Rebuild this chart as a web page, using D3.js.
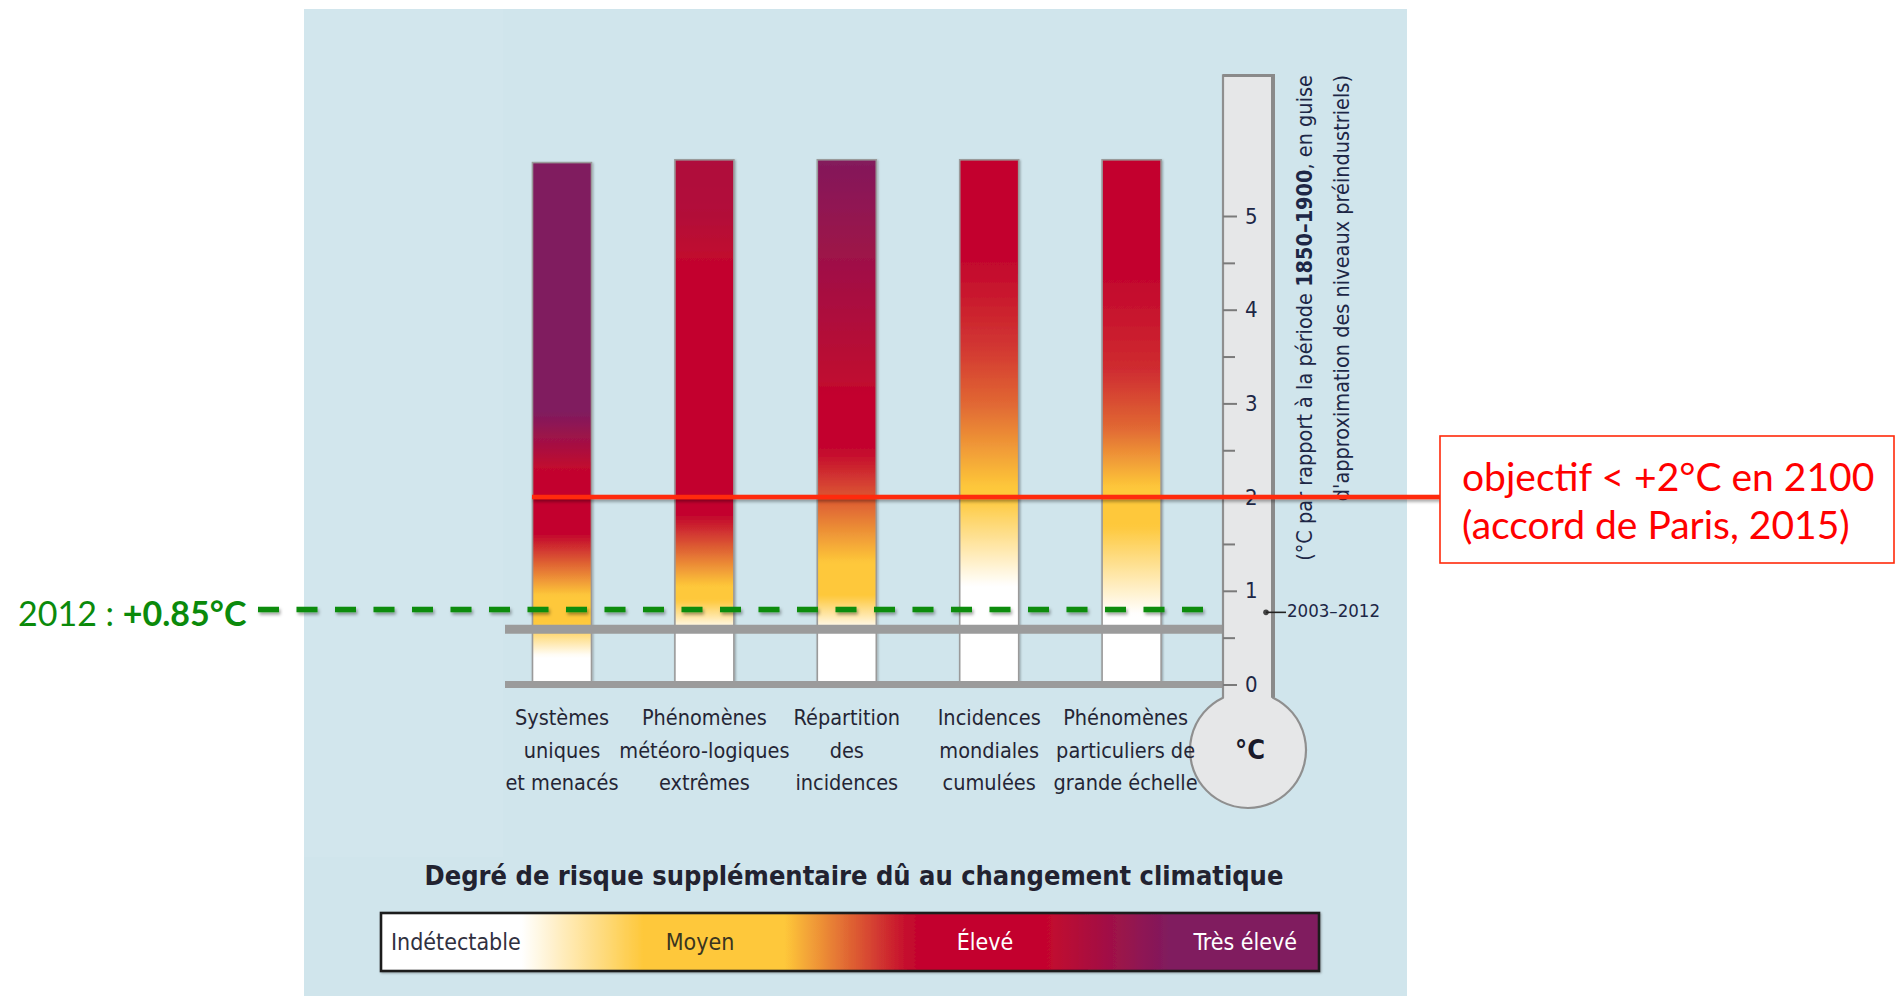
<!DOCTYPE html>
<html><head><meta charset="utf-8">
<script src="https://cdn.jsdelivr.net/npm/d3@7"></script>
<style>
html,body{margin:0;padding:0;background:#fff;}
svg{display:block;}
.cond{font-family:"Liberation Sans Narrow","DejaVu Sans Condensed","Roboto Condensed",sans-serif;}
.cal{font-family:Lato,"Open Sans",sans-serif;}
</style></head><body>
<svg id="chart" width="1899" height="996"></svg>
<script>
// ---------- DATA ----------
const categories = ["Systèmes uniques et menacés","Phénomènes météorologiques extrêmes","Répartition des incidences","Incidences mondiales cumulées","Phénomènes particuliers de grande échelle"];
const categoryLines = [["Systèmes","uniques","et menacés"],["Phénomènes","météoro-logiques","extrêmes"],["Répartition","des","incidences"],["Incidences","mondiales","cumulées"],["Phénomènes","particuliers de","grande échelle"]];
const barTops = [5.57, 5.6, 5.6, 5.6, 5.6];
// temperature (°C) at which each risk level (0 indétectable,1 moyen,2 élevé,3 très élevé) is reached
const riskTemps = [
  [0, 0.3, 0.65, 0.95, 1.6, 2.3, 2.9, 5.57],
  [0, 0.58, 0.9, 1.05, 1.8, 4.5, 5.0, 5.6],
  [0, 0.58, 0.95, 1.3, 2.5, 3.1, 5.6],
  [0, 1.05, 2.0, 2.1, 3.0, 3.6, 4.5, 5.6],
  [0, 0.75, 1.7, 2.1, 2.75, 3.35, 4.3, 5.6]
];
const riskLevels = [
  [0, 0, 1, 1, 2, 2, 3, 3],
  [0, 0, 1, 1, 2, 2, 2.25, 2.3],
  [0, 0, 1, 1, 2, 2, 2.95],
  [0, 0, 1, 1, 1.5, 1.75, 2, 2],
  [0, 0, 1, 1, 1.5, 1.8, 2, 2]
];
const riskNames = ["Indétectable","Moyen","Élevé","Très élevé"];
const riskColors = ["#ffffff","#fec83a","#c3062d","#801b5e"];
const legendFrac = [0, 0.15, 0.28, 0.43, 0.565, 0.71, 0.84, 1];
const legendLevels = [0, 0, 1, 1, 2, 2, 3, 3];
const tempTicks = [0, 1, 2, 3, 4, 5];
const minorTicks = [0.5, 1.5, 2.5, 3.5, 4.5];
const baselineRef = 0.59;      // grey reference line
const obs2012 = 0.8;           // green dashed line
const obsMarker = 0.77;        // 2003–2012 marker
const obsMarkerLabel = "2003–2012";
const targetTemp = 2;          // Paris target
const obsLabel = ["2012 : ", "+0.85°C"];
const targetLabel = ["objectif < +2°C en 2100", "(accord de Paris, 2015)"];
const axisTitle = ["(°C par rapport à la période ", "1850–1900", ", en guise", "d'approximation des niveaux préindustriels)"];
const chartTitle = "Degré de risque supplémentaire dû au changement climatique";

// ---------- LAYOUT ----------
const svg = d3.select("#chart");
const y = d3.scaleLinear().domain([0, 5]).range([684.5, 216]);
const x = d3.scalePoint().domain(categories).range([562, 1131.6]);
const barW = 59;
const riskColor = d3.scaleLinear().domain([0,1,2,3]).range(riskColors).interpolate(d3.interpolateRgb);

const defs = svg.append("defs");
const sh = defs.append("filter").attr("id","shadow").attr("filterUnits","userSpaceOnUse")
  .attr("x",0).attr("y",0).attr("width",1899).attr("height",996);
sh.append("feDropShadow").attr("dx",1.5).attr("dy",2.5).attr("stdDeviation",1.6).attr("flood-color","#000").attr("flood-opacity",0.35);
const sh2 = defs.append("filter").attr("id","shadow2").attr("filterUnits","userSpaceOnUse")
  .attr("x",0).attr("y",0).attr("width",1899).attr("height",996);
sh2.append("feDropShadow").attr("dx",1).attr("dy",1).attr("stdDeviation",1).attr("flood-color","#000").attr("flood-opacity",0.3);

// panel
svg.append("rect").attr("x",304).attr("y",9).attr("width",1103).attr("height",987).attr("fill","#d0e5ec");
svg.append("rect").attr("x",304).attr("y",9).attr("width",199).attr("height",848).attr("fill","#d2e6ed");

// bar gradients
categories.forEach((c,i) => {
  const top = barTops[i];
  const lv = d3.scaleLinear().domain(riskTemps[i]).range(riskLevels[i]).clamp(true);
  const g = defs.append("linearGradient").attr("id","grad"+i)
    .attr("gradientUnits","userSpaceOnUse").attr("x1",0).attr("x2",0)
    .attr("y1",y(0)).attr("y2",y(top));
  d3.range(0, top + 0.001, 0.04).forEach(t => {
    g.append("stop").attr("offset", t/top).attr("stop-color", riskColor(lv(t)));
  });
});

// bars
svg.append("g").selectAll("rect").data(categories).join("rect")
  .attr("x", d => x(d) - barW/2)
  .attr("y", (d,i) => y(barTops[i]))
  .attr("width", barW)
  .attr("height", (d,i) => y(0) - y(barTops[i]))
  .attr("fill", (d,i) => `url(#grad${i})`)
  .attr("stroke","#9a9a9a").attr("stroke-width",1.6)
  .attr("filter","url(#shadow2)");

// grey reference lines
const lineX0 = 505, tubeL = 1223, tubeR = 1273;
svg.append("line").attr("x1",lineX0).attr("x2",tubeL).attr("y1",y(baselineRef)).attr("y2",y(baselineRef))
  .attr("stroke","#9b9b9b").attr("stroke-width",9);
svg.append("line").attr("x1",lineX0).attr("x2",tubeL).attr("y1",y(0)).attr("y2",y(0))
  .attr("stroke","#9b9b9b").attr("stroke-width",7);

// thermometer
const tTop = y(6.5), bcx = (tubeL+tubeR)/2, bcy = 750, br = 58;
const dy = Math.sqrt(br*br - ((tubeR-tubeL)/2)**2);
svg.append("path")
  .attr("d", `M${tubeL},${tTop} L${tubeR},${tTop} L${tubeR},${bcy-dy} A${br},${br} 0 1 1 ${tubeL},${bcy-dy} Z`)
  .attr("fill","#e6e7e8").attr("stroke","#8f8f8f").attr("stroke-width",2.2);
svg.append("line").attr("x1",tubeR).attr("x2",tubeR).attr("y1",tTop).attr("y2",bcy-dy)
  .attr("stroke","#8a8a8a").attr("stroke-width",4);
svg.append("line").attr("x1",tubeL).attr("x2",tubeR+2).attr("y1",tTop).attr("y2",tTop)
  .attr("stroke","#8a8a8a").attr("stroke-width",3);

// ticks
const axMajor = svg.append("g").attr("class","cond").attr("transform",`translate(${tubeL},0)`)
  .call(d3.axisRight(y).tickValues(tempTicks).tickSize(14).tickPadding(8).tickFormat(d3.format("d")));
axMajor.select(".domain").remove();
axMajor.selectAll("line").attr("stroke","#7a7a7a").attr("stroke-width",2);
axMajor.selectAll("text").attr("font-size",22).attr("fill","#1d2746").attr("font-family",null);
const axMinor = svg.append("g").attr("transform",`translate(${tubeL},0)`)
  .call(d3.axisRight(y).tickValues(minorTicks).tickSize(12).tickFormat(""));
axMinor.select(".domain").remove();
axMinor.selectAll("line").attr("stroke","#7a7a7a").attr("stroke-width",2);

svg.append("text").attr("class","cond").attr("x",bcx+2).attr("y",bcy+9).attr("text-anchor","middle")
  .attr("font-size",27).attr("font-weight","bold").attr("fill","#1a1a2a").text("°C");

// 2003-2012 marker
svg.append("circle").attr("cx",1266).attr("cy",y(obsMarker)).attr("r",2.8).attr("fill","#444");
svg.append("line").attr("x1",1266).attr("x2",1286).attr("y1",y(obsMarker)).attr("y2",y(obsMarker)).attr("stroke","#222").attr("stroke-width",1.6);
svg.append("text").attr("class","cond").attr("x",1287).attr("y",y(obsMarker)).attr("dominant-baseline","middle")
  .attr("font-size",18.5).attr("fill","#1d2746").text(obsMarkerLabel);

// rotated axis title
const at1 = svg.append("text").attr("class","cond").attr("transform","translate(1312,75) rotate(-90)")
  .attr("text-anchor","end").attr("font-size",21.5).attr("fill","#1d2746");
at1.append("tspan").text(axisTitle[0]);
at1.append("tspan").attr("font-weight","bold").text(axisTitle[1]);
at1.append("tspan").text(axisTitle[2]);
svg.append("text").attr("class","cond").attr("transform","translate(1349,75) rotate(-90)")
  .attr("text-anchor","end").attr("font-size",21.5).attr("fill","#1d2746").text(axisTitle[3]);

// category labels
const lab = svg.append("g").attr("class","cond").attr("font-size",21.5).attr("fill","#252535").attr("text-anchor","middle");
categories.forEach((c,i) => {
  categoryLines[i].forEach((ln,j) => {
    lab.append("text").attr("x", x(c) - (i===4 ? 6 : 0)).attr("y", 725 + j*32.5).text(ln);
  });
});

// title
svg.append("text").attr("class","cond").attr("x",854).attr("y",885).attr("text-anchor","middle")
  .attr("font-size",27).attr("font-weight","bold").attr("fill","#222230").text(chartTitle);

// legend
const lx = d3.scaleLinear().domain([0,1]).range([381,1319]);
const lvl = d3.scaleLinear().domain(legendFrac).range(legendLevels);
const lg = defs.append("linearGradient").attr("id","legGrad").attr("x1","0%").attr("x2","100%").attr("y1",0).attr("y2",0);
d3.range(0,1.0001,0.01).forEach(f => lg.append("stop").attr("offset",f).attr("stop-color",riskColor(lvl(f))));
svg.append("rect").attr("x",lx(0)).attr("y",913).attr("width",lx(1)-lx(0)).attr("height",58)
  .attr("fill","url(#legGrad)").attr("stroke","#1e1e1e").attr("stroke-width",2.6).attr("filter","url(#shadow2)");
const legLab = svg.append("g").attr("class","cond").attr("font-size",23);
legLab.append("text").attr("x",lx(0)+10).attr("y",950).attr("fill","#303040").text(riskNames[0]);
legLab.append("text").attr("x",700).attr("y",950).attr("text-anchor","middle").attr("fill","#3a3520").text(riskNames[1]);
legLab.append("text").attr("x",985).attr("y",950).attr("text-anchor","middle").attr("fill","#ffffff").text(riskNames[2]);
legLab.append("text").attr("x",lx(1)-22).attr("y",950).attr("text-anchor","end").attr("fill","#ffffff").text(riskNames[3]);

// red target line + box
svg.append("line").attr("x1",532).attr("x2",1440).attr("y1",y(targetTemp)).attr("y2",y(targetTemp))
  .attr("stroke","#ff2a0a").attr("stroke-width",4.5).attr("filter","url(#shadow)");
svg.append("rect").attr("x",1440).attr("y",436).attr("width",454).attr("height",127)
  .attr("fill","#ffffff").attr("stroke","#ff2a0a").attr("stroke-width",1.6);
targetLabel.forEach((t,j) => {
  svg.append("text").attr("class","cal").attr("x",1462).attr("y",491 + j*48)
    .attr("font-size",39).attr("fill","#ff0000").text(t);
});

// green 2012 line + label
svg.append("line").attr("x1",258).attr("x2",1216).attr("y1",y(obs2012)).attr("y2",y(obs2012))
  .attr("stroke","#0a8c0a").attr("stroke-width",5.5).attr("stroke-dasharray","21,17.5").attr("filter","url(#shadow)");
const gl = svg.append("text").attr("class","cal").attr("x",18).attr("y",626).attr("font-size",34).attr("fill","#0b8a0b");
gl.append("tspan").text(obsLabel[0]);
gl.append("tspan").attr("font-weight","bold").text(obsLabel[1]);
</script>
</body></html>
